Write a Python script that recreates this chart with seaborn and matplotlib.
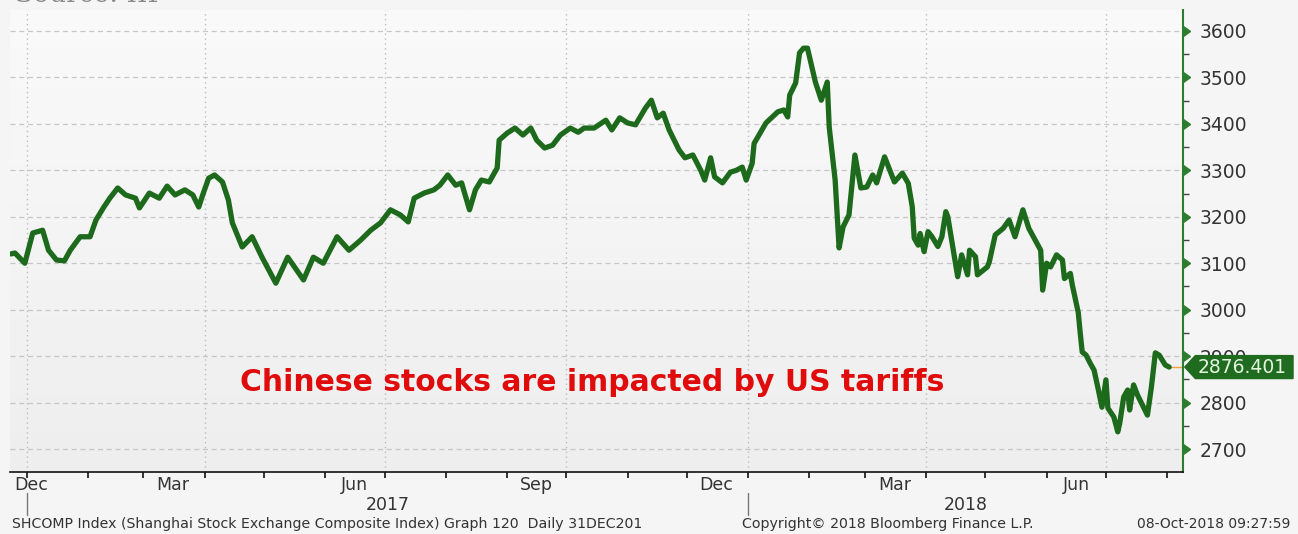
import numpy as np
import pandas as pd
import matplotlib
matplotlib.use("Agg")
import matplotlib.pyplot as plt
import matplotlib.dates as mdates
from matplotlib.colors import LinearSegmentedColormap
from matplotlib.lines import Line2D
from matplotlib.markers import CARETRIGHTBASE
from matplotlib.patches import Polygon
from matplotlib.ticker import MultipleLocator, NullFormatter
import seaborn as sns

# Shanghai Composite (SHCOMP) closing levels
dates = [
    "2016-12-24", "2016-12-26", "2016-12-31", "2017-01-04", "2017-01-09", "2017-01-12", "2017-01-16", "2017-01-20", "2017-01-23", "2017-01-28",
    "2017-02-02", "2017-02-05", "2017-02-09", "2017-02-12", "2017-02-16", "2017-02-20", "2017-02-25", "2017-02-27", "2017-03-04", "2017-03-09",
    "2017-03-13", "2017-03-17", "2017-03-22", "2017-03-26", "2017-03-29", "2017-03-31", "2017-04-03", "2017-04-06", "2017-04-10", "2017-04-13",
    "2017-04-15", "2017-04-20", "2017-04-25", "2017-04-30", "2017-05-07", "2017-05-13", "2017-05-21", "2017-05-26", "2017-05-31", "2017-06-07",
    "2017-06-13", "2017-06-19", "2017-06-24", "2017-06-29", "2017-07-04", "2017-07-09", "2017-07-13", "2017-07-16", "2017-07-21", "2017-07-26",
    "2017-07-29", "2017-08-02", "2017-08-06", "2017-08-09", "2017-08-13", "2017-08-16", "2017-08-19", "2017-08-23", "2017-08-27", "2017-08-28",
    "2017-09-01", "2017-09-05", "2017-09-09", "2017-09-13", "2017-09-16", "2017-09-20", "2017-09-24", "2017-09-28", "2017-10-03", "2017-10-07",
    "2017-10-10", "2017-10-15", "2017-10-21", "2017-10-24", "2017-10-28", "2017-11-01", "2017-11-05", "2017-11-10", "2017-11-13", "2017-11-16",
    "2017-11-19", "2017-11-22", "2017-11-27", "2017-11-30", "2017-12-04", "2017-12-08", "2017-12-10", "2017-12-13", "2017-12-15", "2017-12-19",
    "2017-12-23", "2017-12-26", "2017-12-29", "2017-12-31", "2018-01-03", "2018-01-04", "2018-01-07", "2018-01-10", "2018-01-16", "2018-01-19",
    "2018-01-21", "2018-01-22", "2018-01-25", "2018-01-27", "2018-01-29", "2018-01-31", "2018-02-04", "2018-02-05", "2018-02-07", "2018-02-10",
    "2018-02-11", "2018-02-14", "2018-02-16", "2018-02-18", "2018-02-21", "2018-02-24", "2018-02-27", "2018-03-02", "2018-03-05", "2018-03-07",
    "2018-03-11", "2018-03-16", "2018-03-20", "2018-03-23", "2018-03-25", "2018-03-26", "2018-03-28", "2018-03-29", "2018-03-31", "2018-04-02",
    "2018-04-04", "2018-04-07", "2018-04-09", "2018-04-11", "2018-04-12", "2018-04-17", "2018-04-19", "2018-04-22", "2018-04-23", "2018-04-26",
    "2018-04-27", "2018-05-02", "2018-05-03", "2018-05-06", "2018-05-10", "2018-05-13", "2018-05-16", "2018-05-20", "2018-05-23", "2018-05-29",
    "2018-05-30", "2018-06-01", "2018-06-03", "2018-06-06", "2018-06-09", "2018-06-10", "2018-06-13", "2018-06-14", "2018-06-17", "2018-06-18",
    "2018-06-19", "2018-06-21", "2018-06-23", "2018-06-25", "2018-06-27", "2018-06-29", "2018-07-01", "2018-07-02", "2018-07-05", "2018-07-07",
    "2018-07-08", "2018-07-10", "2018-07-12", "2018-07-13", "2018-07-15", "2018-07-17", "2018-07-22", "2018-07-24", "2018-07-26", "2018-07-28",
    "2018-07-31", "2018-08-02",
]
closes = [
    3120, 3122, 3100, 3165, 3171, 3128, 3107, 3105, 3128, 3157,
    3157, 3193, 3221, 3240, 3262, 3247, 3240, 3219, 3251, 3240,
    3266, 3247, 3258, 3247, 3221, 3247, 3283, 3290, 3275, 3236,
    3187, 3135, 3157, 3113, 3057, 3113, 3064, 3113, 3100, 3157,
    3128, 3150, 3171, 3187, 3215, 3204, 3189, 3240, 3251, 3258,
    3268, 3290, 3268, 3273, 3215, 3258, 3279, 3275, 3305, 3365,
    3380, 3391, 3376, 3391, 3365, 3348, 3354, 3376, 3391, 3382,
    3391, 3391, 3408, 3387, 3413, 3402, 3398, 3434, 3451, 3413,
    3423, 3387, 3344, 3327, 3333, 3300, 3279, 3327, 3286, 3273,
    3296, 3300, 3307, 3279, 3315, 3358, 3380, 3402, 3426, 3430,
    3415, 3462, 3488, 3553, 3563, 3563, 3490, 3477, 3451, 3490,
    3393, 3279, 3133, 3178, 3204, 3333, 3262, 3264, 3290, 3273,
    3329, 3275, 3294, 3272, 3222, 3154, 3139, 3164, 3125, 3168,
    3157, 3136, 3157, 3211, 3200, 3071, 3118, 3075, 3128, 3114,
    3075, 3092, 3103, 3161, 3175, 3193, 3157, 3215, 3175, 3128,
    3042, 3100, 3092, 3118, 3107, 3067, 3078, 3053, 2994, 2950,
    2909, 2902, 2885, 2870, 2831, 2790, 2849, 2788, 2769, 2737,
    2756, 2812, 2827, 2784, 2838, 2816, 2773, 2833, 2907, 2902,
    2881, 2876.401,
]

month_labels = ["Dec", "Mar", "Jun", "Sep", "Dec", "Mar", "Jun"]
month_label_dates = ["2016-12-16", "2017-03-16", "2017-06-16", "2017-09-16",
                     "2017-12-16", "2018-03-16", "2018-06-16"]
year_labels = ["2017", "2018"]
year_starts = ["2017-01-01", "2018-01-01"]
quarter_lines = ["2017-01-01", "2017-04-01", "2017-07-01", "2017-10-01",
                 "2018-01-01", "2018-04-01", "2018-07-01"]
x_range = ["2016-12-23 12:00", "2018-08-09 00:00"]
y_range = [2650.5, 3645.2]

df = pd.DataFrame({"date": pd.to_datetime(dates), "close": closes})
last_date = df["date"].iloc[-1]
last_close = df["close"].iloc[-1]

sns.set_style("white")
plt.rcParams["font.family"] = ["DejaVu Sans"]

LINE_GREEN = "#1d6a1d"
AXIS_GREEN = "#2e7d2e"
TEXT_GRAY = "#333333"

fig = plt.figure(figsize=(12.98, 5.34), dpi=100, facecolor="#f5f5f5")
ax = fig.add_axes([10 / 1298, 62 / 534, 1173 / 1298, 462 / 534])

# soft vertical shading of the plot panel
shade = LinearSegmentedColormap.from_list("panel", ["#eeeeee", "#fafafa"])
ax.imshow(np.linspace(0, 1, 256)[:, None], extent=(0, 1, 0, 1), origin="lower",
          transform=ax.transAxes, aspect="auto", cmap=shade, zorder=0)

sns.lineplot(data=df, x="date", y="close", ax=ax, color=LINE_GREEN,
             linewidth=3.8, zorder=3)

xmin, xmax = [pd.Timestamp(s) for s in x_range]
ax.set_xlim(xmin, xmax)
ax.set_ylim(*y_range)

# orange connector from the last close to the axis
ax.plot([last_date, xmax], [last_close, last_close], color="#f0a040", lw=1.0, zorder=2)

# grid: dashed horizontals, dotted quarter verticals
ax.yaxis.set_major_locator(MultipleLocator(100))
ax.yaxis.set_minor_locator(MultipleLocator(50))
ax.grid(axis="y", which="major", ls=(0, (4, 3)), color="#c6c6c6", lw=0.9, zorder=1)
ax.grid(axis="x", visible=False)
for q in pd.to_datetime(quarter_lines):
    ax.axvline(q, ls=(0, (1, 2.5)), color="#bdbdbd", lw=1.0, zorder=1)

ax.set_xlabel("")
ax.set_ylabel("")

# right-hand value axis
ax.yaxis.tick_right()
ax.yaxis.set_label_position("right")
ax.tick_params(axis="y", which="major", right=True, left=False, length=7, width=1,
               pad=5, colors=AXIS_GREEN, labelcolor=TEXT_GRAY, labelsize=13.5)
ax.tick_params(axis="y", which="minor", right=True, left=False, length=4, width=1,
               colors="#444444")
for t in ax.yaxis.get_major_ticks():
    t.tick2line.set_marker(CARETRIGHTBASE)
    t.tick2line.set_markersize(7)
    t.tick2line.set_color(AXIS_GREEN)

# month ticks on the time axis
ax.xaxis.set_major_locator(mdates.MonthLocator())
ax.xaxis.set_major_formatter(NullFormatter())
ax.tick_params(axis="x", which="major", bottom=True, direction="out", length=4,
               width=1.2, colors="#111111")

for side in ("top", "left"):
    ax.spines[side].set_visible(False)
ax.spines["right"].set_color(AXIS_GREEN)
ax.spines["right"].set_linewidth(1.5)
ax.spines["bottom"].set_color("#111111")
ax.spines["bottom"].set_linewidth(1.2)

xt = ax.get_xaxis_transform()
for lab, d in zip(month_labels, pd.to_datetime(month_label_dates)):
    if d < xmin:
        ax.text(0.004, -0.028, lab, transform=ax.transAxes, ha="left", va="center",
                fontsize=12.5, color=TEXT_GRAY)
    else:
        ax.text(d, -0.028, lab, transform=xt, ha="center", va="center",
                fontsize=12.5, color=TEXT_GRAY)

for lab, start in zip(year_labels, pd.to_datetime(year_starts)):
    end = min(start + pd.DateOffset(years=1), xmax)
    mid = start + (end - start) / 2
    ax.text(mid, -0.072, lab, transform=xt, ha="center", va="center",
            fontsize=12.5, color=TEXT_GRAY)
    ax.add_line(Line2D([start, start], [-0.045, -0.093], transform=xt,
                       color="#777777", lw=1.0, clip_on=False))

# last-value tag on the value axis
half = 24.7
tag = Polygon([(1.0015, last_close), (1.0105, last_close + half),
               (1.0938, last_close + half), (1.0938, last_close - half),
               (1.0105, last_close - half)],
              closed=True, transform=ax.get_yaxis_transform(),
              facecolor="#1f6b1f", edgecolor="#1f6b1f", clip_on=False, zorder=5)
ax.add_patch(tag)
ax.text(1.0125, last_close, f"{last_close:.3f}", transform=ax.get_yaxis_transform(),
        ha="left", va="center", fontsize=13.5, color="#e6f5e0", zorder=6, clip_on=False)

ax.text(0.496, 0.193, "Chinese stocks are impacted by US tariffs",
        transform=ax.transAxes, ha="center", va="center", fontsize=21.5,
        fontweight="bold", color="#e00b0b", zorder=4)

fig.text(15 / 1298, 1 - 2.5 / 534, "Source: IIF", ha="left", va="baseline",
         fontsize=19, family="DejaVu Serif", color="#8a8a8a")

fig.text(12 / 1298, 1 - 524 / 534,
         "SHCOMP Index (Shanghai Stock Exchange Composite Index) Graph 120  Daily 31DEC201",
         ha="left", va="center", fontsize=10.2, color=TEXT_GRAY)
fig.text(742 / 1298, 1 - 524 / 534, "Copyright© 2018 Bloomberg Finance L.P.",
         ha="left", va="center", fontsize=10.2, color=TEXT_GRAY)
fig.text(1290 / 1298, 1 - 524 / 534, "08-Oct-2018 09:27:59",
         ha="right", va="center", fontsize=10, color=TEXT_GRAY)

fig.savefig("out.png", dpi=100, facecolor=fig.get_facecolor())
